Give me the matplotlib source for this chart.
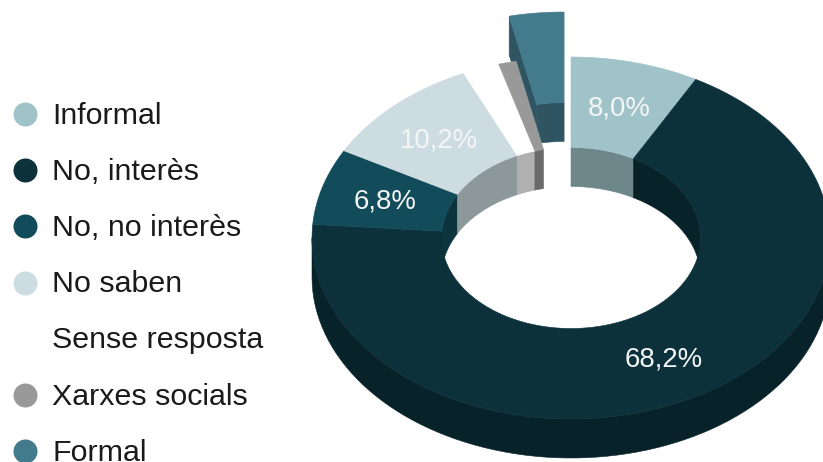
import numpy as np
import matplotlib
matplotlib.use('Agg')
import matplotlib.pyplot as plt

#%%
#=====================================================================
#Chart values
#=====================================================================
categories = ['Informal', 'No, interès', 'No, no interès', 'No saben',
              'Sense resposta', 'Xarxes socials', 'Formal']
shares = [8.0, 68.2, 6.8, 10.2, 2.3, 1.1, 3.4]
value_labels = ['8,0%', '68,2%', '6,8%', '10,2%', '', '', '']
colors = ['#a0c3c9', '#0c313b', '#124c5b', '#cddce1',
          '#ffffff', '#999999', '#437b8d']
explode = [0, 0, 0, 0, 0, 0, 0.25]

#donut geometry in pixels of the picture
cx, cy = 571, 238
rx, ry = 259, 181
hole = 0.5
depth = 39
wall_shade = 0.69

plt.rcParams['font.family'] = ['Liberation Sans', 'DejaVu Sans']

fig = plt.figure(figsize=(8.23, 4.62), dpi=100)
ax = fig.add_axes([0, 0, 1, 1])
ax.set_xlim(0, 823)
ax.set_ylim(462, 0)
ax.axis('off')


#point on the ellipse, angle in degrees clockwise from the top
def ring(angles, radius, dx=0, dy=0):
    t = np.radians(angles)
    return (cx + dx + radius * rx * np.sin(t),
            cy + dy - radius * ry * np.cos(t))


def shade(color):
    rgb = np.array(matplotlib.colors.to_rgb(color))
    return tuple(rgb * wall_shade)


def band(a0, a1, radius, color, dx, dy, z):
    #vertical wall below one curved edge
    if a1 <= a0:
        return
    a = np.linspace(a0, a1, 80)
    x, y = ring(a, radius, dx, dy)
    ax.fill(np.r_[x, x[::-1]], np.r_[y, y[::-1] + depth],
            facecolor=color, edgecolor=color, lw=0.4, zorder=z)


#%%
#=====================================================================
#Draw the slices
#=====================================================================
stops = np.r_[0, np.cumsum(shares)] * 3.6 * 100 / sum(shares)

for i, color in enumerate(colors):
    a0, a1 = stops[i], stops[i + 1]
    mid = np.radians((a0 + a1) / 2)
    dx = explode[i] * rx * np.sin(mid)
    dy = -explode[i] * ry * np.cos(mid)
    #exploded slice goes behind the rest of the ring
    z = 1 if explode[i] else 2
    wall = shade(color)

    #outer wall, only the front half shows
    band(max(a0, 90), min(a1, 270), 1, wall, dx, dy, z)
    #inner wall, only the back half shows
    band(a0, min(a1, 90), hole, wall, dx, dy, z)
    band(max(a0, 270), a1, hole, wall, dx, dy, z)

    #cut face on the left side of the exploded slice
    if explode[i]:
        xa, ya = ring(np.array([a0]), 1, dx, dy)
        xb, yb = ring(np.array([a0]), hole, dx, dy)
        ax.fill([xa[0], xb[0], xb[0], xa[0]],
                [ya[0], yb[0], yb[0] + depth, ya[0] + depth],
                facecolor=wall, edgecolor=wall, lw=0.4, zorder=z)

    #top face
    a = np.linspace(a0, a1, 120)
    xo, yo = ring(a, 1, dx, dy)
    xi, yi = ring(a, hole, dx, dy)
    ax.fill(np.r_[xo, xi[::-1]], np.r_[yo, yi[::-1]],
            facecolor=color, edgecolor=color, lw=0.4, zorder=z + 0.5)

#value labels sit halfway across the ring
for i, color in enumerate(colors):
    a0, a1 = stops[i], stops[i + 1]
    if value_labels[i]:
        tx, ty = ring(np.array([(a0 + a1) / 2]), (1 + hole) / 2)
        ax.text(tx[0], ty[0] + 2, value_labels[i], color='#f4f6f6', fontsize=19.8,
                ha='center', va='center', zorder=5)

#%%
#=====================================================================
#Legend
#=====================================================================
row_y = 114 + 56.2 * np.arange(len(categories))
for name, color, y in zip(categories, colors, row_y):
    ax.plot([25], [y], 'o', ms=17.3, color=color, mew=0, zorder=5)
    ax.text(52.5, y + 9.6, name, color='#1a1a1a', fontsize=21.9,
            ha='left', va='baseline', zorder=5)

fig.savefig('out.png', dpi=100)
